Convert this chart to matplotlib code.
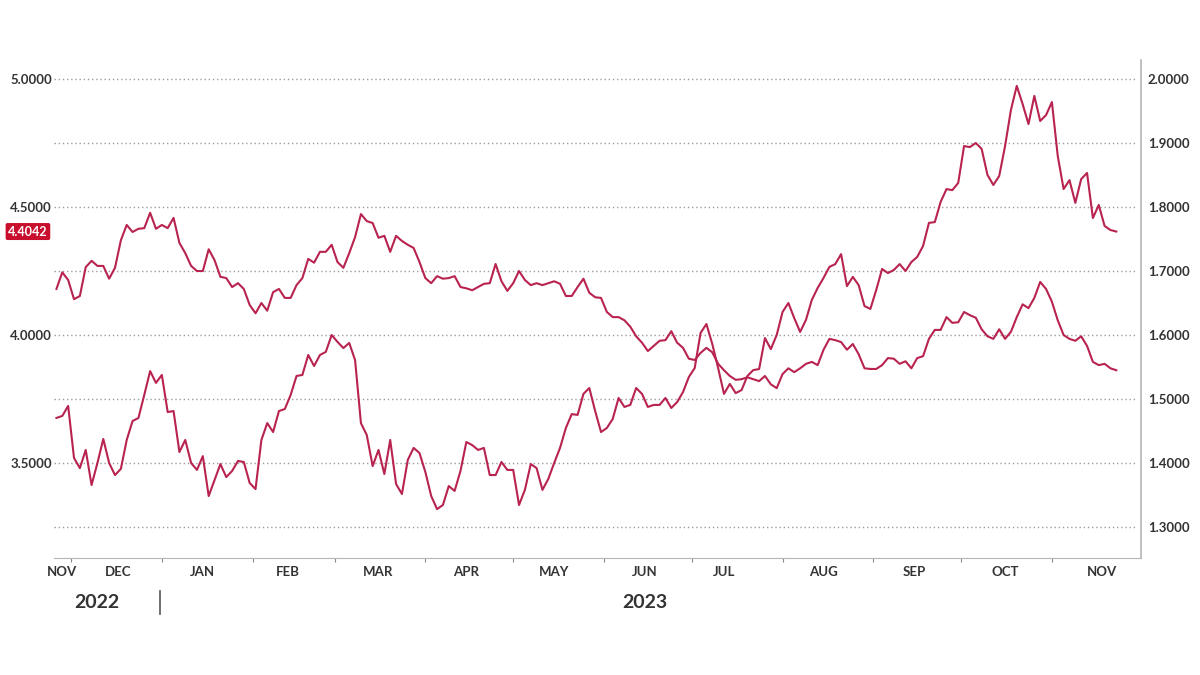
import pandas as pd
import matplotlib
matplotlib.use('Agg')
import matplotlib.pyplot as plt
import matplotlib.transforms as mtransforms
from matplotlib.lines import Line2D

plt.rcParams['font.family'] = ['Lato', 'DejaVu Sans']

# left axis series (spiky one, ends at 4.4042), one value every 2nd day from 26 Nov 2022
left_vals = [
    3.676, 3.684, 3.723, 3.520, 3.480, 3.551, 3.414, 3.500, 3.594, 3.500,
    3.453, 3.477, 3.590, 3.664, 3.676, 3.766, 3.859, 3.813, 3.844, 3.699,
    3.703, 3.543, 3.590, 3.500, 3.473, 3.527, 3.371, 3.434, 3.496, 3.445,
    3.469, 3.508, 3.504, 3.422, 3.398, 3.590, 3.656, 3.621, 3.703, 3.711,
    3.766, 3.840, 3.844, 3.922, 3.879, 3.922, 3.934, 4.000, 3.973, 3.949,
    3.969, 3.902, 3.656, 3.609, 3.488, 3.551, 3.457, 3.590, 3.418, 3.379,
    3.512, 3.559, 3.539, 3.465, 3.371, 3.320, 3.336, 3.410, 3.391, 3.469,
    3.582, 3.570, 3.551, 3.559, 3.453, 3.453, 3.504, 3.473, 3.473, 3.336,
    3.395, 3.496, 3.480, 3.395, 3.438, 3.500, 3.559, 3.637, 3.691, 3.688,
    3.770, 3.793, 3.703, 3.621, 3.637, 3.672, 3.754, 3.719, 3.727, 3.793,
    3.770, 3.719, 3.727, 3.727, 3.754, 3.715, 3.738, 3.777, 3.836, 3.871,
    4.008, 4.043, 3.965, 3.871, 3.770, 3.809, 3.773, 3.785, 3.840, 3.863,
    3.867, 3.988, 3.945, 4.000, 4.090, 4.125, 4.066, 4.012, 4.059, 4.137,
    4.184, 4.223, 4.266, 4.277, 4.316, 4.191, 4.227, 4.195, 4.113, 4.102,
    4.176, 4.258, 4.242, 4.254, 4.277, 4.250, 4.285, 4.305, 4.348, 4.438,
    4.441, 4.520, 4.570, 4.566, 4.594, 4.738, 4.734, 4.750, 4.727, 4.625,
    4.586, 4.621, 4.738, 4.879, 4.973, 4.902, 4.824, 4.934, 4.836, 4.859,
    4.910, 4.699, 4.570, 4.605, 4.516, 4.609, 4.633, 4.457, 4.508, 4.426,
    4.410, 4.4042,
]

# right axis series (smoother one), same dates
right_vals = [
    1.672, 1.698, 1.686, 1.656, 1.661, 1.706, 1.716, 1.708, 1.708, 1.688,
    1.705, 1.748, 1.772, 1.761, 1.766, 1.767, 1.791, 1.766, 1.772, 1.767,
    1.783, 1.744, 1.728, 1.708, 1.700, 1.700, 1.734, 1.717, 1.691, 1.689,
    1.675, 1.681, 1.672, 1.647, 1.634, 1.650, 1.638, 1.667, 1.672, 1.658,
    1.658, 1.678, 1.689, 1.719, 1.713, 1.730, 1.730, 1.741, 1.714, 1.705,
    1.728, 1.753, 1.789, 1.778, 1.775, 1.752, 1.755, 1.730, 1.755, 1.747,
    1.741, 1.736, 1.714, 1.689, 1.681, 1.692, 1.688, 1.689, 1.692, 1.675,
    1.673, 1.670, 1.675, 1.680, 1.681, 1.711, 1.684, 1.669, 1.681, 1.700,
    1.686, 1.678, 1.681, 1.678, 1.681, 1.684, 1.680, 1.661, 1.661, 1.675,
    1.688, 1.666, 1.659, 1.658, 1.636, 1.628, 1.628, 1.623, 1.613, 1.598,
    1.588, 1.575, 1.583, 1.591, 1.592, 1.606, 1.588, 1.580, 1.563, 1.561,
    1.572, 1.580, 1.573, 1.555, 1.545, 1.536, 1.530, 1.531, 1.534, 1.531,
    1.528, 1.536, 1.523, 1.517, 1.539, 1.548, 1.542, 1.548, 1.555, 1.558,
    1.553, 1.577, 1.594, 1.592, 1.589, 1.577, 1.586, 1.570, 1.548, 1.547,
    1.547, 1.553, 1.564, 1.563, 1.555, 1.559, 1.548, 1.564, 1.567, 1.594,
    1.608, 1.608, 1.628, 1.619, 1.620, 1.636, 1.631, 1.627, 1.609, 1.598,
    1.594, 1.609, 1.594, 1.605, 1.628, 1.648, 1.642, 1.658, 1.683, 1.672,
    1.652, 1.623, 1.600, 1.594, 1.591, 1.598, 1.583, 1.558, 1.553, 1.555,
    1.548, 1.545,
]

left_dates = pd.date_range('2022-11-26', periods=len(left_vals), freq='2D')
right_dates = pd.date_range('2022-11-26', periods=len(right_vals), freq='2D')

month_names = ['NOV', 'DEC', 'JAN', 'FEB', 'MAR', 'APR', 'MAY',
               'JUN', 'JUL', 'AUG', 'SEP', 'OCT', 'NOV']
month_label_days = ['2022-11-28', '2022-12-17', '2023-01-15', '2023-02-13',
                    '2023-03-16', '2023-04-15', '2023-05-15', '2023-06-15',
                    '2023-07-12', '2023-08-15', '2023-09-15', '2023-10-16',
                    '2023-11-18']

left_ticks = [3.25, 3.5, 3.75, 4.0, 4.25, 4.5, 4.75, 5.0]
left_labels = ['', '3.5000', '', '4.0000', '', '4.5000', '', '5.0000']
right_ticks = [1.3, 1.4, 1.5, 1.6, 1.7, 1.8, 1.9, 2.0]
right_labels = ['%.4f' % t for t in right_ticks]

line_color = '#b8234f'
badge_color = '#c8102e'
text_color = '#333333'
axis_grey = '#b5b5b5'

fig = plt.figure(figsize=(12, 6.75), dpi=100)
ax = fig.add_axes([0.045, 0.1733, 0.9058, 0.7378])
ax2 = ax.twinx()

# dotted gridlines
for v in left_ticks:
    ax.axhline(v, xmin=0, xmax=0.9954, color='#9c9c9c', lw=1.0,
               ls=(0, (1, 2)), zorder=0)

ax.plot(left_dates, left_vals, color=line_color, lw=1.5, zorder=3)
ax2.plot(right_dates, right_vals, color=line_color, lw=1.5, zorder=3)

ax.set_ylim(3.1289, 5.0742)
ax2.set_ylim(1.2516, 2.0297)
ax.set_xlim(pd.Timestamp('2022-11-25 04:00'), pd.Timestamp('2023-12-01 10:00'))

# spines
for s in ['top', 'left', 'right']:
    ax.spines[s].set_visible(False)
ax.spines['bottom'].set_color(axis_grey)
for s in ['top', 'left', 'bottom']:
    ax2.spines[s].set_visible(False)
ax2.spines['right'].set_color(axis_grey)
ax2.spines['right'].set_linewidth(1.2)

# x axis: tick marks at month starts, names in between
ax.set_xticks(pd.date_range('2022-12-01', '2023-11-01', freq='MS'))
ax.set_xticklabels([])
ax.set_xticks(pd.to_datetime(month_label_days), minor=True)
ax.set_xticklabels(month_names, minor=True)
ax.tick_params(axis='x', which='major', length=3, color='#8a8a8a', direction='out')
ax.tick_params(axis='x', which='minor', length=0, pad=6, labelsize=9.5,
               labelcolor=text_color)
for lab in ax.get_xticklabels(minor=True):
    lab.set_fontweight('bold')

# y axes
ax.set_yticks(left_ticks)
ax.set_yticklabels(left_labels)
ax.tick_params(axis='y', length=0, pad=1.5, labelsize=9.5, labelcolor=text_color)
ax2.set_yticks(right_ticks)
ax2.set_yticklabels(right_labels)
ax2.tick_params(axis='y', length=0, pad=5, labelsize=9.5, labelcolor=text_color)
for lab in ax.get_yticklabels() + ax2.get_yticklabels():
    lab.set_fontweight('bold')

# last value badge on the left axis
ax.annotate('%.4f' % left_vals[-1], xy=(0, left_vals[-1]),
            xycoords=mtransforms.blended_transform_factory(ax.transAxes, ax.transData),
            xytext=(-4.5, 0), textcoords='offset points', ha='right', va='center',
            color='white', fontsize=9, fontweight='bold', annotation_clip=False,
            bbox=dict(boxstyle='round,pad=0.2,rounding_size=0.15', fc=badge_color, ec='none'))

# year labels under the months
fig.text(97 / 1200, 1 - 602 / 675, '2022', ha='center', va='center',
         fontsize=14, color=text_color, fontweight='bold')
fig.text(645 / 1200, 1 - 602 / 675, '2023', ha='center', va='center',
         fontsize=14, color=text_color, fontweight='bold')
fig.add_artist(Line2D([160 / 1200, 160 / 1200], [1 - 591 / 675, 1 - 614 / 675],
                      transform=fig.transFigure, color='#555555', lw=1.2))

fig.savefig('out.png', dpi=100)
